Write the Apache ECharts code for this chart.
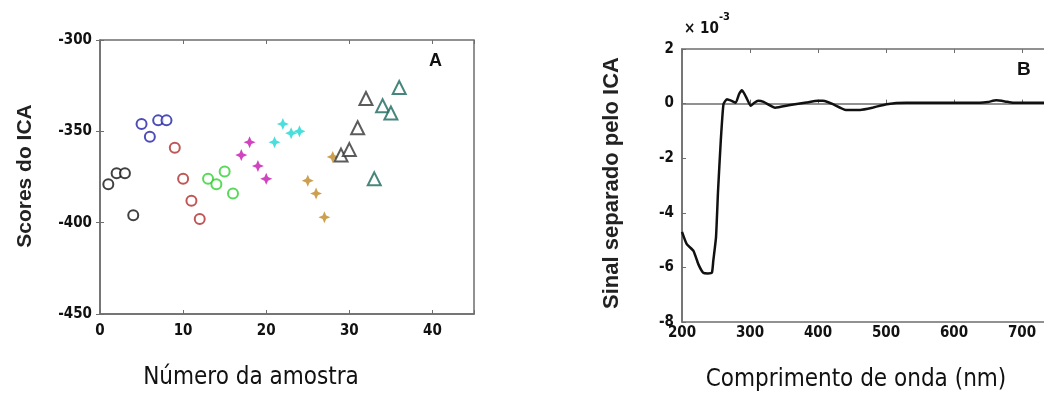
<!DOCTYPE html>
<html>
<head>
<meta charset="utf-8">
<script src="https://cdn.jsdelivr.net/npm/echarts@6/dist/echarts.min.js"></script>
<style>
  html, body { margin: 0; padding: 0; background: #fff; }
  #main { width: 1044px; height: 394px; }
</style>
</head>
<body>
<div id="main"></div>
<script>
// Panel A: ICA scores per sample group
var blackX = [1, 2, 3, 4];
var blackY = [-379, -373, -373, -396];
var blueX = [5, 6, 7, 8];
var blueY = [-346, -353, -344, -344];
var redX = [9, 10, 11, 12];
var redY = [-359, -376, -388, -398];
var greenX = [13, 14, 15, 16];
var greenY = [-376, -379, -372, -384];
var magentaX = [17, 18, 19, 20];
var magentaY = [-363, -356, -369, -376];
var cyanX = [21, 22, 23, 24];
var cyanY = [-356, -346, -351, -350];
var orangeX = [25, 26, 27, 28];
var orangeY = [-377, -384, -397, -364];
var grayX = [29, 30, 31, 32];
var grayY = [-363, -360, -348, -332];
var tealX = [33, 34, 35, 36];
var tealY = [-376, -336, -340, -326];

var xTicksA = [0, 10, 20, 30, 40];
var yTicksA = [-450, -400, -350, -300];

// Panel B: separated signal (x 10^-3)
var wavelength = [200, 207, 217, 224, 231, 238, 244, 246, 250, 253,
                  257, 261, 266, 273, 279, 284, 288, 292, 296, 301,
                  306, 312, 320, 337, 359, 383, 400, 407, 415, 422,
                  441, 462, 480, 501, 530, 589, 638, 650, 662, 675,
                  687, 740, 800];
var signal = [-4.7, -5.15, -5.4, -5.88, -6.19, -6.22, -6.19, -5.76, -4.9, -3.2,
              -1.37, -0.02, 0.16, 0.1, 0.03, 0.35, 0.49, 0.35, 0.15, -0.08,
              0.02, 0.1, 0.06, -0.15, -0.05, 0.04, 0.1, 0.1, 0.05, -0.02,
              -0.23, -0.23, -0.15, -0.02, 0.03, 0.03, 0.03, 0.06, 0.12, 0.08,
              0.03, 0.03, 0.03];

var chartDom = document.getElementById('main');
var myChart = echarts.init(chartDom);
var option;

function pairs(xs, ys) {
    return xs.map(function (x, i) { return [x, ys[i]]; });
}

var condensed = 'DejaVu Sans Condensed, Liberation Sans Narrow, sans-serif';
var tickFont = {
    fontFamily: condensed,
    fontWeight: 'bold',
    fontSize: 15,
    color: '#111'
};
var axisGray = '#6e6e6e';
var starPath = 'path://M0,-10 L3,-3 L10,0 L3,3 L0,10 L-3,3 L-10,0 L-3,-3 Z';

function groupSeries(name, xs, ys, color, symbol, size) {
    return {
        name: name,
        type: 'scatter',
        xAxisIndex: 0,
        yAxisIndex: 0,
        symbol: symbol,
        symbolSize: size,
        itemStyle: symbol === starPath
            ? { color: color, opacity: 0.9 }
            : { color: color, borderColor: color, borderWidth: 2.8 },
        data: pairs(xs, ys)
    };
}

option = {
    animation: false,
    grid: [
        { left: 100, top: 40, width: 374, height: 274, show: true, outerBoundsMode: 'none',
          borderColor: axisGray, borderWidth: 1.5, backgroundColor: '#fff' },
        { left: 682, top: 49, width: 408, height: 273, show: true, outerBoundsMode: 'none',
          borderColor: axisGray, borderWidth: 1.5, backgroundColor: '#fff' }
    ],
    xAxis: [
        {
            gridIndex: 0, type: 'value', min: 0, max: 45, interval: 10,
            axisLine: { lineStyle: { color: axisGray, width: 1.5 } },
            axisTick: { inside: true, length: 4, lineStyle: { color: axisGray } },
            splitLine: { show: false },
            axisLabel: Object.assign({
                margin: 10,
                formatter: function (v) { return xTicksA.indexOf(v) >= 0 ? String(v) : ''; }
            }, tickFont)
        },
        {
            gridIndex: 0, type: 'value', min: 0, max: 45, interval: 10, position: 'top',
            axisLine: { show: false },
            axisTick: { inside: true, length: 4, lineStyle: { color: axisGray } },
            axisLabel: { show: false }, splitLine: { show: false }
        },
        {
            gridIndex: 1, type: 'value', min: 200, max: 800, interval: 100,
            axisLine: { lineStyle: { color: axisGray, width: 1.5 } },
            axisTick: { inside: true, length: 4, lineStyle: { color: axisGray } },
            splitLine: { show: false },
            axisLabel: Object.assign({ margin: 4 }, tickFont)
        },
        {
            gridIndex: 1, type: 'value', min: 200, max: 800, interval: 100, position: 'top',
            axisLine: { show: false },
            axisTick: { inside: true, length: 4, lineStyle: { color: axisGray } },
            axisLabel: { show: false }, splitLine: { show: false }
        }
    ],
    yAxis: [
        {
            gridIndex: 0, type: 'value', min: -450, max: -300, interval: 50,
            axisLine: { lineStyle: { color: axisGray, width: 1.5 } },
            axisTick: { inside: true, length: 4, lineStyle: { color: axisGray } },
            splitLine: { show: false },
            axisLabel: Object.assign({
                margin: 8,
                formatter: function (v) { return yTicksA.indexOf(v) >= 0 ? String(v) : ''; }
            }, tickFont)
        },
        {
            gridIndex: 0, type: 'value', min: -450, max: -300, interval: 50, position: 'right',
            axisLine: { show: false },
            axisTick: { inside: true, length: 4, lineStyle: { color: axisGray } },
            axisLabel: { show: false }, splitLine: { show: false }
        },
        {
            gridIndex: 1, type: 'value', min: -8, max: 2, interval: 2,
            axisLine: { lineStyle: { color: axisGray, width: 1.5 } },
            axisTick: { inside: true, length: 4, lineStyle: { color: axisGray } },
            splitLine: { show: false },
            axisLabel: Object.assign({ margin: 8 }, tickFont)
        }
    ],
    graphic: [
        { type: 'text', left: 429, top: 52,
          style: { text: 'A', font: 'bold 18px Liberation Sans, Arial, sans-serif', fill: '#111' } },
        { type: 'text', left: 1017, top: 60,
          style: { text: 'B', font: 'bold 19px Liberation Sans, Arial, sans-serif', fill: '#111' } },
        { type: 'text', left: 684, top: 22,
          style: { text: '× 10', font: 'bold 15px ' + condensed, fill: '#111' } },
        { type: 'text', left: 719, top: 12,
          style: { text: '-3', font: 'bold 11px ' + condensed, fill: '#111' } },
        { type: 'text', x: 251, y: 378,
          style: { text: 'Número da amostra', align: 'center', verticalAlign: 'middle',
                   font: '24px ' + condensed, fill: '#111' } },
        { type: 'text', x: 856, y: 380,
          style: { text: 'Comprimento de onda (nm)', align: 'center', verticalAlign: 'middle',
                   font: '24px ' + condensed, fill: '#111' } },
        { type: 'text', x: 25, y: 176, rotation: Math.PI / 2,
          style: { text: 'Scores do ICA', align: 'center', verticalAlign: 'middle',
                   font: 'bold 21px Liberation Sans, Arial, sans-serif', fill: '#222' } },
        { type: 'text', x: 612, y: 183, rotation: Math.PI / 2,
          style: { text: 'Sinal separado pelo ICA', align: 'center', verticalAlign: 'middle',
                   font: 'bold 22px Liberation Sans, Arial, sans-serif', fill: '#222' } }
    ],
    series: [
        groupSeries('g1', blackX, blackY, '#111111', 'emptyCircle', 10),
        groupSeries('g2', blueX, blueY, '#2020a8', 'emptyCircle', 10),
        groupSeries('g3', redX, redY, '#b02c2c', 'emptyCircle', 10),
        groupSeries('g4', greenX, greenY, '#30d030', 'emptyCircle', 10),
        groupSeries('g5', magentaX, magentaY, '#cc30b8', starPath, 12),
        groupSeries('g6', cyanX, cyanY, '#36dcd8', starPath, 12),
        groupSeries('g7', orangeX, orangeY, '#c8963e', starPath, 12),
        groupSeries('g8', grayX, grayY, '#333333', 'emptyTriangle', 13),
        groupSeries('g9', tealX, tealY, '#1a685d', 'emptyTriangle', 13),
        {
            name: 'sinal',
            type: 'line',
            xAxisIndex: 2,
            yAxisIndex: 2,
            showSymbol: false,
            smooth: 0.15,
            lineStyle: { color: '#111', width: 2.5 },
            data: pairs(wavelength, signal)
        }
    ]
};

option && myChart.setOption(option);
</script>
</body>
</html>
